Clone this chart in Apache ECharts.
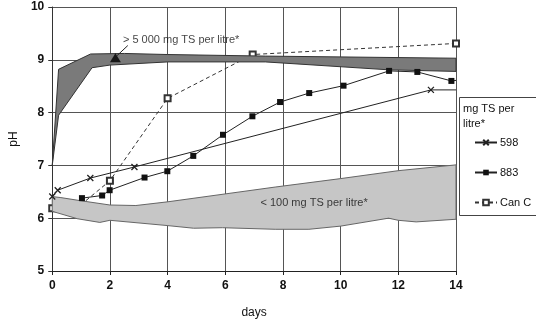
<!DOCTYPE html>
<html>
  <head>
    <title></title>
    <meta charset="UTF-8" />
    <script src="https://cdn.jsdelivr.net/npm/echarts@6/dist/echarts.min.js"></script>
  </head>
  <body style="margin:0">
    <div id="main"></div>
    <script>
      const width = 536;
      const height = 324;
      const main = document.getElementById('main');
      main.style.width = `${width}px`;
      main.style.height = `${height}px`;

      // measured series: [day, pH]
      const s598 = [[0, 6.41], [0.19, 6.53], [1.32, 6.76], [2.85, 6.97], [13.13, 8.43], [14, 8.43]];
      const s598Marked = [1, 1, 1, 1, 1, 0];
      const s883 = [[1.03, 6.38], [1.73, 6.43], [1.99, 6.53], [3.2, 6.77], [3.99, 6.89], [4.89, 7.18], [5.92, 7.58],
        [6.94, 7.93], [7.9, 8.2], [8.91, 8.37], [10.1, 8.51], [11.68, 8.79], [12.66, 8.77], [13.84, 8.6], [14, 8.61]];
      const s883Marked = [1, 1, 1, 1, 1, 1, 1, 1, 1, 1, 1, 1, 1, 1, 0];
      const sCanC = [[0, 6.19], [1.05, 6.28], [2, 6.71], [4, 8.27], [6.95, 9.1], [14, 9.31]];
      const sCanCMarked = [1, 0, 1, 1, 1, 1];

      // ranges (bands)
      const highTop = [[0, 7.0], [0.22, 8.82], [1.33, 9.11], [2.5, 9.12], [4, 9.1], [7.39, 9.07], [14, 9.03]];
      const highBottom = [[0, 7.0], [0.22, 7.95], [1.38, 8.85], [2, 8.9], [4, 8.96], [7.39, 8.96], [11.68, 8.81], [14, 8.78]];
      const lowTop = [[0, 6.41], [0.3, 6.39], [1, 6.33], [2, 6.25], [2.9, 6.24], [4, 6.31], [6, 6.46], [7.73, 6.59],
        [10, 6.75], [12, 6.9], [14, 7.01]];
      const lowBottom = [[0, 6.13], [0.87, 5.99], [1.65, 5.92], [2, 5.96], [4, 5.86], [4.9, 5.81], [5.9, 5.82],
        [7.73, 5.79], [8.9, 5.79], [10, 5.85], [11.66, 6.0], [12, 5.96], [12.62, 5.93], [14, 5.98]];

      const highLabel = '> 5 000 mg TS per litre*';
      const lowLabel = '< 100 mg TS per litre*';
      const highMarker = [2.19, 9.04];
      const highArrow = [[2.62, 9.27], [2.25, 9.08]];
      const highLabelAt = [2.45, 9.37];
      const lowLabelAt = [7.22, 6.29];

      const font = 'Liberation Sans, Arial, sans-serif';
      const xMark = 'path://M0,0L10,10M10,0L0,10';

      function marked(points, flags) {
        return points.map((p, i) => (flags[i] ? p : { value: p, symbol: 'none' }));
      }

      function band(top, bottom, fill, stroke, z) {
        return {
          type: 'custom',
          z: z,
          silent: true,
          data: [0],
          renderItem: (params, api) => {
            const pts = top.concat(bottom.slice().reverse()).map((p) => api.coord(p));
            return {
              type: 'polygon',
              shape: { points: pts },
              style: { fill: fill, stroke: stroke, lineWidth: 1 },
            };
          },
        };
      }

      const myChart = echarts.init(main);
      const option = {
        animation: false,
        backgroundColor: '#fff',
        textStyle: { fontFamily: font },
        grid: { left: 41, right: 80, top: 7, bottom: 46 },
        legend: {
          orient: 'vertical',
          left: 469,
          top: 132,
          itemWidth: 22,
          itemHeight: 7,
          itemGap: 19,
          textStyle: { fontSize: 11, color: '#111', fontFamily: font, padding: [0, 0, 0, -2] },
          data: ['598', '883', 'Can C'],
        },
        graphic: [
          {
            type: 'rect',
            shape: { x: 459.5, y: 97.5, width: 90, height: 118 },
            style: { fill: '#fff', stroke: '#444', lineWidth: 1 },
            z: 0,
          },
          {
            type: 'text',
            left: 463,
            top: 101,
            style: { text: 'mg TS per\nlitre*', font: '11px ' + font, fill: '#111', lineHeight: 15 },
            z: 1,
          },
        ],
        xAxis: {
          type: 'value',
          min: 0,
          max: 14,
          interval: 2,
          name: 'days',
          nameLocation: 'middle',
          nameGap: 36,
          nameTextStyle: { fontSize: 12, color: '#111' },
          axisLine: { lineStyle: { color: '#222' } },
          axisTick: { show: true, length: 4, lineStyle: { color: '#222' } },
          axisLabel: { fontSize: 12, color: '#111', fontWeight: 'bold', margin: 9 },
          splitLine: { lineStyle: { color: '#555', width: 1 } },
        },
        yAxis: {
          type: 'value',
          min: 5,
          max: 10,
          interval: 1,
          name: 'pH',
          nameLocation: 'middle',
          nameGap: 26,
          nameTextStyle: { fontSize: 12, color: '#111' },
          axisLine: { show: true, lineStyle: { color: '#333' } },
          axisTick: { show: true, length: 4, lineStyle: { color: '#333' } },
          axisLabel: { fontSize: 12, color: '#111', fontWeight: 'bold', margin: 8 },
          splitLine: { lineStyle: { color: '#555', width: 1 } },
        },
        series: [
          {
            name: 'Can C',
            type: 'line',
            z: 1,
            data: marked(sCanC, sCanCMarked),
            symbol: 'emptyRect',
            symbolSize: 6,
            lineStyle: { color: '#333', width: 1, type: [4, 3] },
            itemStyle: { color: '#333', borderColor: '#333', borderWidth: 1 },
          },
          band(highTop, highBottom, '#7a7a7a', '#333', 2),
          band(lowTop, lowBottom, '#c6c6c6', '#666', 2),
          {
            name: '598',
            type: 'line',
            z: 3,
            data: marked(s598, s598Marked),
            symbol: xMark,
            symbolSize: 6,
            lineStyle: { color: '#222', width: 1 },
            itemStyle: { color: '#222', borderColor: '#222', borderWidth: 1.3 },
          },
          {
            name: '883',
            type: 'line',
            z: 3,
            data: marked(s883, s883Marked),
            symbol: 'rect',
            symbolSize: 6,
            lineStyle: { color: '#222', width: 1 },
            itemStyle: { color: '#111' },
          },
          {
            type: 'line',
            z: 4,
            silent: true,
            data: highArrow,
            symbol: 'none',
            lineStyle: { color: '#222', width: 1 },
          },
          {
            type: 'scatter',
            z: 4,
            silent: true,
            data: [highMarker],
            symbol: 'triangle',
            symbolSize: [11, 9],
            itemStyle: { color: '#000' },
          },
          {
            type: 'scatter',
            z: 4,
            silent: true,
            symbolSize: 0,
            data: [highLabelAt, lowLabelAt],
            label: {
              show: true,
              position: 'right',
              distance: 0,
              fontSize: 11,
              color: '#111',
              formatter: (p) => (p.dataIndex === 0 ? highLabel : lowLabel),
            },
          },
        ],
      };
      myChart.setOption(option);
    </script>
  </body>
</html>
